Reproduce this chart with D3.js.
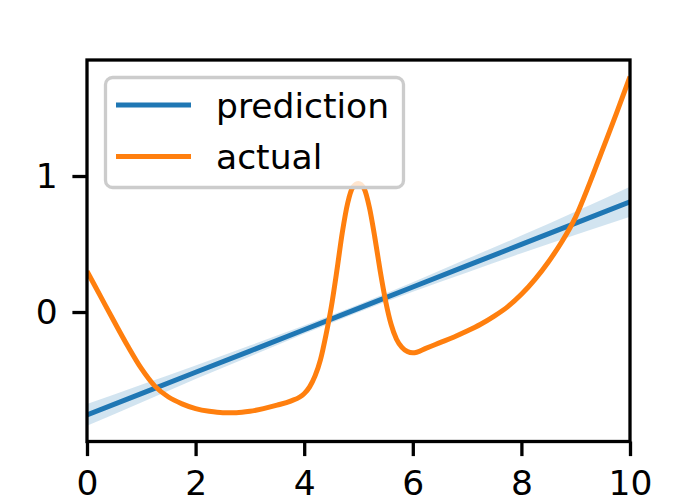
<!DOCTYPE html>
<html>
<head>
<meta charset="utf-8">
<script src="https://cdn.jsdelivr.net/npm/d3@7"></script>
<style>
  body { margin: 0; background: #fff; }
  svg { display: block; font-family: "DejaVu Sans", sans-serif; }
</style>
</head>
<body>
<div id="chart-area"></div>
<script>
/* regression prediction vs actual */

// prediction line with its confidence band
var predX = [0, 1, 2, 3, 4, 5, 6, 7, 8, 9, 10];
var predMid = [-0.757, -0.600, -0.443, -0.287, -0.130, 0.027, 0.184, 0.341, 0.497, 0.654, 0.811];
var predLow = [-0.837, -0.665, -0.493, -0.327, -0.160, -0.001, 0.149, 0.291, 0.432, 0.569, 0.701];
var predHigh = [-0.677, -0.535, -0.393, -0.247, -0.100, 0.055, 0.219, 0.391, 0.562, 0.739, 0.921];

// actual curve
var actX = [0, 0.25, 0.5, 0.75, 1, 1.25, 1.5, 1.75, 2, 2.25, 2.5, 2.75, 3, 3.25, 3.5, 3.75,
    4, 4.1, 4.2, 4.3, 4.4, 4.5, 4.6, 4.7, 4.8, 4.9, 5, 5.1, 5.2, 5.3, 5.4, 5.5, 5.6, 5.7, 5.8, 5.9,
    6, 6.25, 6.5, 6.75, 7, 7.25, 7.5, 7.75, 8, 8.25, 8.5, 8.75, 9, 9.25, 9.5, 9.75, 10];
var actY = [0.30, 0.115, -0.07, -0.25, -0.415, -0.545, -0.625, -0.675, -0.71, -0.73, -0.74, -0.74, -0.73, -0.71, -0.685, -0.655,
    -0.60, -0.55, -0.47, -0.35, -0.17, 0.04, 0.30, 0.58, 0.80, 0.92, 0.945, 0.91, 0.77, 0.55, 0.30, 0.08, -0.09, -0.20, -0.26, -0.29,
    -0.30, -0.265, -0.225, -0.185, -0.14, -0.09, -0.03, 0.04, 0.13, 0.24, 0.37, 0.52, 0.70, 0.94, 1.20, 1.46, 1.73];

var xTicks = [0, 2, 4, 6, 8, 10];
var yTicks = [0, 1];
var legendLabels = ["prediction", "actual"];

var W = 700, H = 500;
var margin = { left: 87, right: 70, top: 60, bottom: 58.5 };
var width = W - margin.left - margin.right;
var height = H - margin.top - margin.bottom;
var fontPx = 34.5;
var lw = 5;
var blue = "#1f77b4", orange = "#ff7f0e";

var svg = d3.select("#chart-area")
    .append("svg")
    .attr("width", W)
    .attr("height", H);

var g = svg.append("g")
    .attr("transform", "translate(" + margin.left + "," + margin.top + ")");

var x = d3.scaleLinear().domain([0, 10]).range([0, width]);
var y = d3.scaleLinear().domain([-0.952, 1.853]).range([height, 0]);

g.append("clipPath").attr("id", "clip")
    .append("rect").attr("width", width).attr("height", height);

var plot = g.append("g").attr("clip-path", "url(#clip)");

var band = d3.area()
    .x(function(d, i) { return x(predX[i]); })
    .y0(function(d, i) { return y(predLow[i]); })
    .y1(function(d, i) { return y(predHigh[i]); })
    .curve(d3.curveMonotoneX);

plot.append("path")
    .attr("d", band(predX))
    .attr("fill", blue)
    .attr("fill-opacity", 0.2);

var predLine = d3.line()
    .x(function(d, i) { return x(predX[i]); })
    .y(function(d, i) { return y(predMid[i]); });

plot.append("path")
    .attr("d", predLine(predX))
    .attr("fill", "none")
    .attr("stroke", blue)
    .attr("stroke-width", lw);

var actLine = d3.line()
    .x(function(d, i) { return x(actX[i]); })
    .y(function(d, i) { return y(actY[i]); })
    .curve(d3.curveMonotoneX);

plot.append("path")
    .attr("d", actLine(actX))
    .attr("fill", "none")
    .attr("stroke", orange)
    .attr("stroke-width", lw)
    .attr("stroke-linejoin", "round");

// axes
var xAxis = g.append("g")
    .attr("transform", "translate(0," + height + ")")
    .call(d3.axisBottom(x).tickValues(xTicks).tickSize(14.6).tickPadding(14.6));
var yAxis = g.append("g")
    .call(d3.axisLeft(y).tickValues(yTicks).tickSize(14.6).tickPadding(14.6).tickFormat(d3.format("d")));

[xAxis, yAxis].forEach(function(a) {
    a.select(".domain").remove();
    a.selectAll("line").attr("stroke", "#000").attr("stroke-width", 3.3);
    a.selectAll("text")
        .attr("fill", "#000")
        .style("font-family", "DejaVu Sans")
        .style("font-size", fontPx + "px");
});

g.append("rect")
    .attr("width", width)
    .attr("height", height)
    .attr("fill", "none")
    .attr("stroke", "#000")
    .attr("stroke-width", 3.3);

// legend
var legend = svg.append("g");
legend.append("rect")
    .attr("x", 105.5).attr("y", 77.5)
    .attr("width", 298).attr("height", 110)
    .attr("rx", 7)
    .attr("fill", "#fff").attr("fill-opacity", 0.8)
    .attr("stroke", "#cccccc").attr("stroke-width", 3.3);

var legendColors = [blue, orange];
legendLabels.forEach(function(lbl, i) {
    var cy = 105 + i * 51.5;
    legend.append("line")
        .attr("x1", 116).attr("x2", 191)
        .attr("y1", cy).attr("y2", cy)
        .attr("stroke", legendColors[i])
        .attr("stroke-width", lw);
    legend.append("text")
        .attr("x", 216).attr("y", cy + 12.5)
        .style("font-size", fontPx + "px")
        .attr("fill", "#000")
        .text(lbl);
});
</script>
</body>
</html>
